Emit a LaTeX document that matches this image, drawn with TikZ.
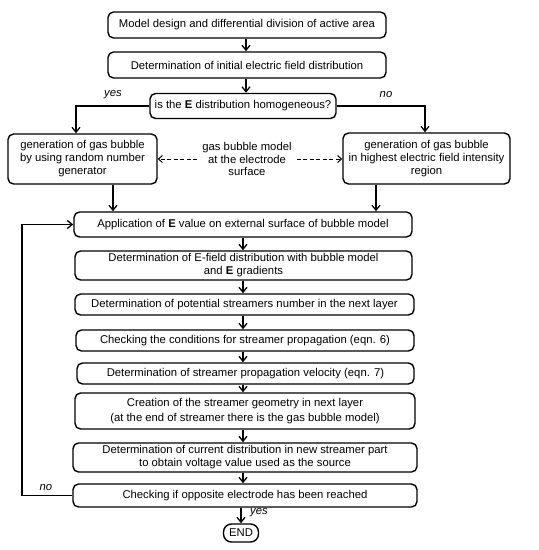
\documentclass[tikz,border=0pt]{standalone}
\usepackage{fontspec}
\setmainfont{Liberation Sans}
\usetikzlibrary{arrows.meta}
\begin{document}
\begin{tikzpicture}[x=1pt,y=-1pt,
  fbox/.style={draw, rounded corners=5.5pt, line width=1.4pt, align=center, inner sep=0pt,
    font=\fontsize{11.3}{13}\selectfont},
  arr/.style={line width=1.3pt, -{Straight Barb[length=5pt,width=8pt]}},
  darr/.style={line width=1pt, dash pattern=on 4pt off 2.5pt, -{Straight Barb[length=4pt,width=7pt]}},
  lbl/.style={font=\fontsize{11.3}{13}\selectfont\itshape, inner sep=0pt}]
\useasboundingbox (0,0) rectangle (539,550);
\node[fbox, minimum width=278, minimum height=26] (b1) at (247,25) {Model design and differential division of active area};
\node[fbox, minimum width=278, minimum height=26] (b2) at (247,65) {Determination of initial electric field distribution};
\node[fbox, minimum width=186, minimum height=25] (dec) at (243,106) {is the \textbf{E} distribution homogeneous?};
\node[fbox, minimum width=149, minimum height=50] (L) at (82.5,159) {generation of gas bubble\\by using random number\\generator};
\node[fbox, minimum width=167, minimum height=51] (R) at (426.5,158.5) {generation of gas bubble\\in highest electric field intensity\\region};
\node[align=center, inner sep=5pt, font=\fontsize{11.3}{12.5}\selectfont] (M) at (247,159) {gas bubble model\\at the electrode\\surface};
\node[fbox, minimum width=338, minimum height=25] (app) at (243,224.5) {Application of \textbf{E} value on external surface of bubble model};
\node[fbox, minimum width=337, minimum height=29] (ef) at (243.5,265.5) {Determination of E-field distribution with bubble model\\and \textbf{E} gradients};
\node[fbox, minimum width=339, minimum height=21] (pot) at (244.5,304.5) {Determination of potential streamers number in the next layer};
\node[fbox, minimum width=338, minimum height=21] (cond) at (245,340.5) {Checking the conditions for streamer propagation (eqn. 6)};
\node[fbox, minimum width=337, minimum height=21] (vel) at (245.5,373.5) {Determination of streamer propagation velocity (eqn. 7)};
\node[fbox, minimum width=340, minimum height=36, font=\fontsize{11.3}{15}\selectfont] (cre) at (245,411) {Creation of the streamer geometry in next layer\\(at the end of streamer there is the gas bubble model)};
\node[fbox, minimum width=344, minimum height=29] (cur) at (245,457.5) {Determination of current distribution in new streamer part\\to obtain voltage value used as the source};
\node[fbox, minimum width=344, minimum height=23] (chk) at (245,495.5) {Checking if opposite electrode has been reached};
\node[fbox, rounded corners=8pt, minimum width=35, minimum height=18] (end) at (241,533) {END};
% connectors
\draw[arr] (b1.south -| 246,0) -- (b2.north -| 246,0);
\draw[arr] (b2.south -| 246,0) -- (dec.north -| 246,0);
\coordinate (ly) at (76,0);
\coordinate (ry) at (425,0);
\draw[arr] (dec.west) -| (L.north -| ly);
\draw[arr] (dec.east) -| (R.north -| ry);
\node[lbl] (yes1) at (113,95) {yes};
\node[lbl] (no1) at (386,95) {no};
\draw[darr] (M.west) -- (L.east |- M.west);
\draw[darr] (M.east) -- (R.west |- M.east);
\coordinate (lx) at (113,0);
\coordinate (rx) at (376,0);
\draw[arr] (L.south -| lx) -- (app.north -| lx);
\draw[arr] (R.south -| rx) -- (app.north -| rx);
\coordinate (cx) at (243,0);
\draw[arr] (app.south -| cx) -- (ef.north -| cx);
\draw[arr] (ef.south -| cx) -- (pot.north -| cx);
\draw[arr] (pot.south -| cx) -- (cond.north -| cx);
\draw[arr] (cond.south -| cx) -- (vel.north -| cx);
\draw[arr] (vel.south -| cx) -- (cre.north -| cx);
\draw[arr] (cre.south -| cx) -- (cur.north -| cx);
\draw[arr] (cur.south -| cx) -- (chk.north -| cx);
\draw[arr] (chk.south -| end.north) -- (end.north);
\coordinate (fb) at (22,0);
\draw[arr] (chk.west) -- (chk.west -| fb) |- (app.west);
\node[lbl] (no2) at (46,488) {no};
\node[lbl, anchor=west] (yes2) at (250,513) {yes};
\end{tikzpicture}
\end{document}
